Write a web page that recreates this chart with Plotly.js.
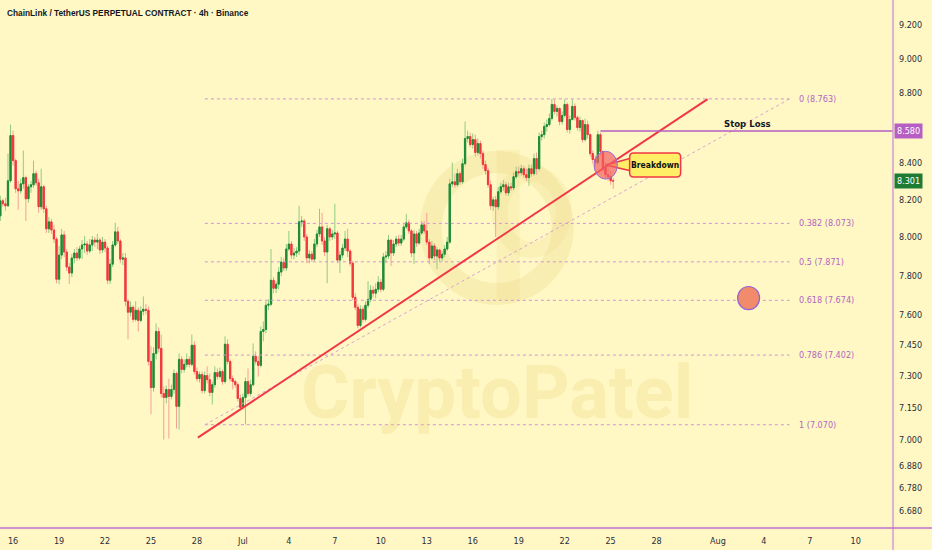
<!DOCTYPE html>
<html><head><meta charset="utf-8">
<script src="https://cdn.plot.ly/plotly-3.0.1.min.js"></script>
<style>html,body{margin:0;padding:0;background:#fff8c5}#chart{width:932px;height:550px}</style>
</head><body><div id="chart"></div>
<script>
// ---- data (4h candles) ----
const startTime = '2023-06-15T04:00:00Z';
const firstOpen = 8.113;
const closes = [
8.194,8.178,8.167,8.303,8.554,8.414,8.259,8.248,8.286,8.320,
8.205,8.270,8.281,8.342,8.292,8.162,8.270,8.151,8.044,8.081,
8.038,7.990,7.781,7.906,8.012,7.922,7.844,7.813,7.891,7.917,
7.891,7.938,7.959,7.964,7.927,7.959,7.985,7.974,7.985,7.933,
7.974,7.943,7.776,7.859,7.959,8.028,7.980,7.885,7.891,7.669,
7.614,7.639,7.578,7.624,7.573,7.619,7.629,7.624,7.371,7.245,
7.410,7.518,7.435,7.217,7.198,7.236,7.203,7.236,7.313,7.156,
7.381,7.332,7.357,7.381,7.357,7.450,7.322,7.288,7.308,7.231,
7.303,7.283,7.222,7.259,7.317,7.298,7.322,7.274,7.455,7.371,
7.288,7.274,7.259,7.193,7.151,7.198,7.274,7.217,7.259,7.396,
7.371,7.352,7.518,7.528,7.649,7.654,7.776,7.735,7.756,7.818,
7.870,7.839,7.938,7.964,7.906,7.917,7.927,8.081,8.086,8.001,
7.891,7.911,7.885,7.964,8.017,8.054,7.980,7.922,8.044,8.001,
8.017,8.022,7.880,7.906,7.943,7.990,7.927,7.864,7.689,7.639,
7.548,7.629,7.578,7.649,7.679,7.725,7.710,7.730,7.766,7.730,
7.896,7.901,7.985,7.917,7.964,7.990,7.969,7.990,8.054,8.076,
8.033,7.917,8.017,7.969,8.022,8.065,8.033,7.974,7.891,7.954,
7.901,7.933,7.891,7.911,7.938,7.974,8.286,8.297,8.281,8.342,
8.297,8.397,8.537,8.548,8.503,8.531,8.459,8.509,8.453,8.392,
8.358,8.281,8.167,8.199,8.162,8.243,8.270,8.281,8.237,8.270,
8.264,8.325,8.353,8.347,8.369,8.336,8.320,8.369,8.342,8.425,
8.369,8.548,8.559,8.605,8.616,8.651,8.731,8.691,8.708,8.633,
8.668,8.731,8.588,8.645,8.720,8.656,8.599,8.639,8.531,8.616,
8.559,8.453,8.420,8.403,8.559,8.464,8.375,8.336,8.325,8.303,
8.301];
const highs = [
8.221,8.205,8.210,8.453,8.616,8.582,8.425,8.303,8.314,8.470,
8.331,8.286,8.303,8.414,8.358,8.314,8.369,8.281,8.167,8.108,
8.097,8.065,8.001,7.954,8.044,8.033,7.938,7.864,7.911,7.938,
7.948,7.954,7.985,8.006,7.980,7.990,8.006,8.001,8.017,7.996,
8.001,7.990,7.954,7.885,7.980,8.076,8.054,7.990,7.917,7.917,
7.679,7.669,7.649,7.669,7.639,7.644,7.694,7.654,7.644,7.445,
7.440,7.558,7.538,7.503,7.250,7.255,7.288,7.259,7.332,7.322,
7.410,7.396,7.381,7.410,7.396,7.503,7.469,7.342,7.322,7.322,
7.322,7.347,7.313,7.274,7.347,7.337,7.342,7.332,7.494,7.479,
7.381,7.303,7.283,7.269,7.212,7.217,7.293,7.337,7.283,7.459,
7.420,7.396,7.543,7.568,7.669,7.679,7.938,7.792,7.771,7.844,
7.896,7.891,7.964,8.033,7.980,7.943,7.948,8.167,8.113,8.097,
8.017,7.933,7.927,7.990,8.038,8.151,8.129,8.001,8.065,8.054,
8.038,8.178,8.033,7.927,7.964,8.033,8.044,7.938,7.875,7.710,
7.654,7.649,7.644,7.669,7.771,7.751,7.746,7.761,7.797,7.782,
7.917,7.927,8.012,7.980,7.985,8.006,8.012,8.012,8.076,8.124,
8.092,8.044,8.038,8.033,8.044,8.086,8.086,8.129,7.990,7.980,
7.969,7.948,7.938,7.927,7.959,8.001,8.314,8.403,8.342,8.369,
8.353,8.425,8.633,8.582,8.571,8.565,8.559,8.537,8.526,8.470,
8.414,8.375,8.303,8.216,8.221,8.270,8.292,8.308,8.297,8.292,
8.292,8.347,8.381,8.381,8.392,8.386,8.369,8.392,8.392,8.453,
8.459,8.571,8.582,8.627,8.645,8.679,8.763,8.760,8.725,8.714,
8.691,8.760,8.743,8.668,8.760,8.737,8.668,8.662,8.645,8.651,
8.639,8.565,8.470,8.442,8.582,8.571,8.470,8.403,8.375,8.358,
8.320];
const lows = [
8.086,8.162,8.140,8.162,8.292,8.386,8.237,8.145,8.232,8.259,
8.086,8.183,8.237,8.264,8.275,8.129,8.145,8.129,8.022,8.022,
8.017,7.969,7.761,7.756,7.885,7.896,7.823,7.756,7.792,7.864,
7.875,7.880,7.885,7.917,7.906,7.917,7.927,7.948,7.938,7.911,
7.917,7.922,7.756,7.756,7.844,7.948,7.964,7.864,7.854,7.644,
7.479,7.593,7.563,7.568,7.518,7.563,7.598,7.603,7.352,7.118,
7.226,7.381,7.415,7.198,7.001,7.170,7.006,7.189,7.217,7.052,
7.048,7.313,7.317,7.342,7.342,7.347,7.308,7.274,7.269,7.217,
7.217,7.264,7.203,7.165,7.245,7.283,7.288,7.259,7.264,7.357,
7.274,7.236,7.245,7.179,7.137,7.141,7.071,7.203,7.203,7.250,
7.357,7.298,7.342,7.469,7.508,7.624,7.644,7.710,7.710,7.730,
7.797,7.823,7.823,7.927,7.885,7.885,7.896,7.906,8.054,7.980,
7.864,7.864,7.870,7.875,7.948,8.001,7.959,7.901,7.761,7.980,
7.985,7.990,7.864,7.813,7.891,7.927,7.896,7.849,7.674,7.624,
7.533,7.538,7.563,7.568,7.634,7.664,7.689,7.684,7.715,7.715,
7.720,7.864,7.885,7.849,7.901,7.948,7.954,7.954,7.980,8.044,
8.017,7.896,7.859,7.948,7.959,8.012,8.017,7.959,7.859,7.885,
7.880,7.833,7.875,7.875,7.896,7.927,7.964,8.270,8.264,8.270,
8.281,8.286,8.386,8.515,8.487,8.481,8.436,8.442,8.425,8.369,
8.336,8.264,8.145,8.140,8.001,8.145,8.232,8.248,8.221,8.221,
8.248,8.253,8.314,8.331,8.331,8.320,8.303,8.275,8.325,8.331,
8.336,8.358,8.526,8.537,8.576,8.605,8.639,8.674,8.662,8.611,
8.616,8.656,8.571,8.565,8.639,8.639,8.582,8.576,8.515,8.520,
8.537,8.436,8.397,8.381,8.392,8.442,8.353,8.314,8.303,8.281,
8.259];

const fibRatios = ['0','0.382','0.5','0.618','0.786','1'];
const fibLevels = [8.763, 8.073, 7.871, 7.674, 7.402, 7.070];
const stopLoss = 8.580;
const lastPrice = 8.301;
const yTickVals = [6.68,6.78,6.88,7.0,7.15,7.3,7.45,7.6,7.8,8.0,8.2,8.4,8.8,9.0,9.2];
const xTickDates = ['2023-06-16','2023-06-19','2023-06-22','2023-06-25','2023-06-28','2023-07-01','2023-07-04','2023-07-07','2023-07-10','2023-07-13','2023-07-16','2023-07-19','2023-07-22','2023-07-25','2023-07-28','2023-08-01','2023-08-04','2023-08-07','2023-08-10'];
const xTickText = ['16','19','22','25','28','Jul','4','7','10','13','16','19','22','25','28','Aug','4','7','10'];

// drawing anchors (dates / prices of the hand-drawn tools)
const xRange = ['2023-06-15 03:29','2023-08-12 10:20'];
const fibFrom = '2023-06-28 12:26', fibTo = '2023-08-05 16:19', fibLabelAt = '2023-08-06 03:20';
const trendFrom = ['2023-06-28 01:26', 7.010], trendTo = ['2023-07-31 07:55', 8.762];
const stopFrom = '2023-07-24 08:00';
const stopLabelAt = '2023-08-02 22:30';
const breakCircle = {x0:'2023-07-23 22:00', x1:'2023-07-25 10:30', y0:8.312, y1:8.466};
const targetCircle = {x0:'2023-08-02 06:55', x1:'2023-08-03 17:20', y0:7.627, y1:7.744};

// ---- build ----
const t0 = Date.parse(startTime);
const times = closes.map((_, i) => new Date(t0 + i * 4 * 3600e3).toISOString().slice(0, 19).replace('T', ' '));
const opens = closes.map((c, i) => i === 0 ? firstOpen : closes[i - 1]);
const bodyHi = closes.map((c, i) => Math.max(c, opens[i]));
const bodyLo = closes.map((c, i) => Math.min(c, opens[i]));

const FONT = 'DejaVu Sans Condensed, Liberation Sans, sans-serif';
const TFONT = 'Liberation Sans, Arial, sans-serif';
const BG = '#fff8c5';

const wicks = {
  type: 'candlestick', x: times, open: opens, high: highs, low: lows, close: closes,
  increasing: {line: {color: '#8fcc80', width: 1}, fillcolor: '#8fcc80'},
  decreasing: {line: {color: '#f4a095', width: 1}, fillcolor: '#f4a095'},
  whiskerwidth: 0, hoverinfo: 'skip'
};
const bodies = {
  type: 'candlestick', x: times, open: opens, high: bodyHi, low: bodyLo, close: closes,
  increasing: {line: {color: '#1f8a37', width: 1}, fillcolor: '#1f8a37'},
  decreasing: {line: {color: '#f2373a', width: 1}, fillcolor: '#f2373a'},
  whiskerwidth: 0, hoverinfo: 'skip'
};

const shapes = [];
const annotations = [];
const px = (x) => x / 893.5, py = (y) => 1 - y / 528;

// watermark logo (below the candles)
shapes.push({type: 'circle', xref: 'paper', yref: 'paper', layer: 'below',
  x0: px(431), x1: px(563), y0: py(294), y1: py(162),
  line: {color: 'rgba(232,208,120,0.26)', width: 22}});
shapes.push({type: 'rect', xref: 'paper', yref: 'paper', layer: 'below',
  x0: px(497), x1: px(520), y0: py(300), y1: py(150),
  fillcolor: 'rgba(232,208,120,0.18)', line: {width: 0}});
shapes.push({type: 'circle', xref: 'paper', yref: 'paper', layer: 'below',
  x0: px(500), x1: px(564), y0: py(250), y1: py(174),
  line: {color: 'rgba(232,208,120,0.18)', width: 16}});

// fib levels
fibLevels.forEach((lv, i) => {
  shapes.push({type: 'line', xref: 'x', yref: 'y', x0: fibFrom, x1: fibTo, y0: lv, y1: lv,
    line: {color: '#cf95d6', width: 1, dash: 'dot'}});
  annotations.push({xref: 'x', yref: 'y', x: fibLabelAt, y: Math.log10(lv), xanchor: 'left', yanchor: 'middle',
    showarrow: false, text: fibRatios[i] + ' (' + lv.toFixed(3) + ')',
    font: {family: FONT, size: 9, color: '#b166c2'}});
});
// fib diagonal
shapes.push({type: 'line', xref: 'x', yref: 'y', x0: fibFrom, y0: fibLevels[5], x1: fibTo, y1: fibLevels[0],
  line: {color: '#d8a3cf', width: 1, dash: 'dot'}});
// trendline
shapes.push({type: 'line', xref: 'x', yref: 'y', x0: trendFrom[0], y0: trendFrom[1], x1: trendTo[0], y1: trendTo[1],
  line: {color: '#f23645', width: 2}});
// stop loss
shapes.push({type: 'line', xref: 'x', yref: 'y', x0: stopFrom, x1: xRange[1], y0: stopLoss, y1: stopLoss,
  line: {color: '#b55ec4', width: 1.5}});
// breakdown callout pointer
const P = (x, y) => px(x).toFixed(5) + ',' + py(y).toFixed(5);
shapes.push({type: 'path', xref: 'paper', yref: 'paper',
  path: 'M' + P(632, 158) + ' L' + P(606, 165) + ' L' + P(632, 171) + ' Z',
  fillcolor: '#ffee66', line: {color: '#f23645', width: 1.5}});
// circles
shapes.push(Object.assign({type: 'circle', xref: 'x', yref: 'y', fillcolor: 'rgba(242,96,96,0.70)',
  line: {color: '#9a6cd8', width: 1}}, breakCircle));
shapes.push(Object.assign({type: 'circle', xref: 'x', yref: 'y', fillcolor: '#f28a6c',
  line: {color: '#8f63d9', width: 1.2}}, targetCircle));
// callout box
const bx0 = 630, bx1 = 681, by0 = 153, by1 = 177, r = 4;
shapes.push({type: 'path', xref: 'paper', yref: 'paper',
  path: 'M' + P(bx0 + r, by0) + ' L' + P(bx1 - r, by0) + ' Q' + P(bx1, by0) + ' ' + P(bx1, by0 + r) +
        ' L' + P(bx1, by1 - r) + ' Q' + P(bx1, by1) + ' ' + P(bx1 - r, by1) +
        ' L' + P(bx0 + r, by1) + ' Q' + P(bx0, by1) + ' ' + P(bx0, by1 - r) +
        ' L' + P(bx0, by0 + r) + ' Q' + P(bx0, by0) + ' ' + P(bx0 + r, by0) + ' Z',
  fillcolor: '#ffee66', line: {color: '#f23645', width: 1.5}});
annotations.push({xref: 'paper', yref: 'paper', x: px(655.5), y: py(165), xanchor: 'center', yanchor: 'middle',
  showarrow: false, text: '<b>Breakdown</b>', font: {family: FONT, size: 8.5, color: '#111'}});

// axis frame lines
shapes.push({type: 'line', xref: 'paper', yref: 'paper', x0: 1, x1: 1, y0: -0.05, y1: 1,
  line: {color: '#d79ad9', width: 1.5}});
shapes.push({type: 'line', xref: 'paper', yref: 'paper', x0: 0, x1: 1.05, y0: 0, y1: 0,
  line: {color: '#c56fcd', width: 1.5}});

// texts
annotations.push({xref: 'paper', yref: 'paper', x: px(497), y: py(392), xanchor: 'center', yanchor: 'middle',
  showarrow: false, text: '<b>CryptoPatel</b>',
  font: {family: 'Roboto, sans-serif', size: 74, color: 'rgba(232,206,112,0.26)'}});
annotations.push({xref: 'paper', yref: 'paper', x: px(5), y: py(13), xanchor: 'left', yanchor: 'middle', showarrow: false,
  text: 'ChainLink / TetherUS PERPETUAL CONTRACT · 4h · Binance',
  font: {family: TFONT, size: 8.3, color: '#131722', weight: 700}});
annotations.push({xref: 'x', yref: 'y', x: stopLabelAt, y: Math.log10(stopLoss), yanchor: 'bottom', yshift: 0,
  showarrow: false, text: '<b>Stop Loss</b>', font: {family: FONT, size: 9.5, color: '#131722'}});
annotations.push({xref: 'paper', yref: 'y', x: 1, xanchor: 'left', xshift: 1, y: Math.log10(stopLoss), showarrow: false,
  text: stopLoss.toFixed(3), bgcolor: '#b65ec3', borderpad: 2, font: {family: FONT, size: 9, color: '#ffffff'}});
annotations.push({xref: 'paper', yref: 'y', x: 1, xanchor: 'left', xshift: 1, y: Math.log10(lastPrice), showarrow: false,
  text: lastPrice.toFixed(3), bgcolor: '#1e7b34', borderpad: 2, font: {family: FONT, size: 9, color: '#ffffff'}});

const layout = {
  width: 932, height: 550,
  margin: {l: 0, r: 38.5, t: 0, b: 22, pad: 0},
  paper_bgcolor: BG, plot_bgcolor: BG,
  showlegend: false,
  xaxis: {type: 'date', range: xRange, tickvals: xTickDates, ticktext: xTickText,
    showgrid: false, zeroline: false, showline: false, ticks: '', ticklabelstandoff: 6,
    tickfont: {family: FONT, size: 9, color: '#2a2e39'}, rangeslider: {visible: false}, fixedrange: true},
  yaxis: {type: 'log', side: 'right', range: [0.819865, 0.970955],
    tickvals: yTickVals, ticktext: yTickVals.map(v => v.toFixed(3)),
    showgrid: false, zeroline: false, showline: false, ticks: '', ticklabelstandoff: 5,
    tickfont: {family: FONT, size: 9, color: '#2a2e39'}, fixedrange: true},
  shapes: shapes, annotations: annotations
};
Plotly.newPlot('chart', [wicks, bodies], layout, {staticPlot: true, displayModeBar: false});
</script></body></html>
